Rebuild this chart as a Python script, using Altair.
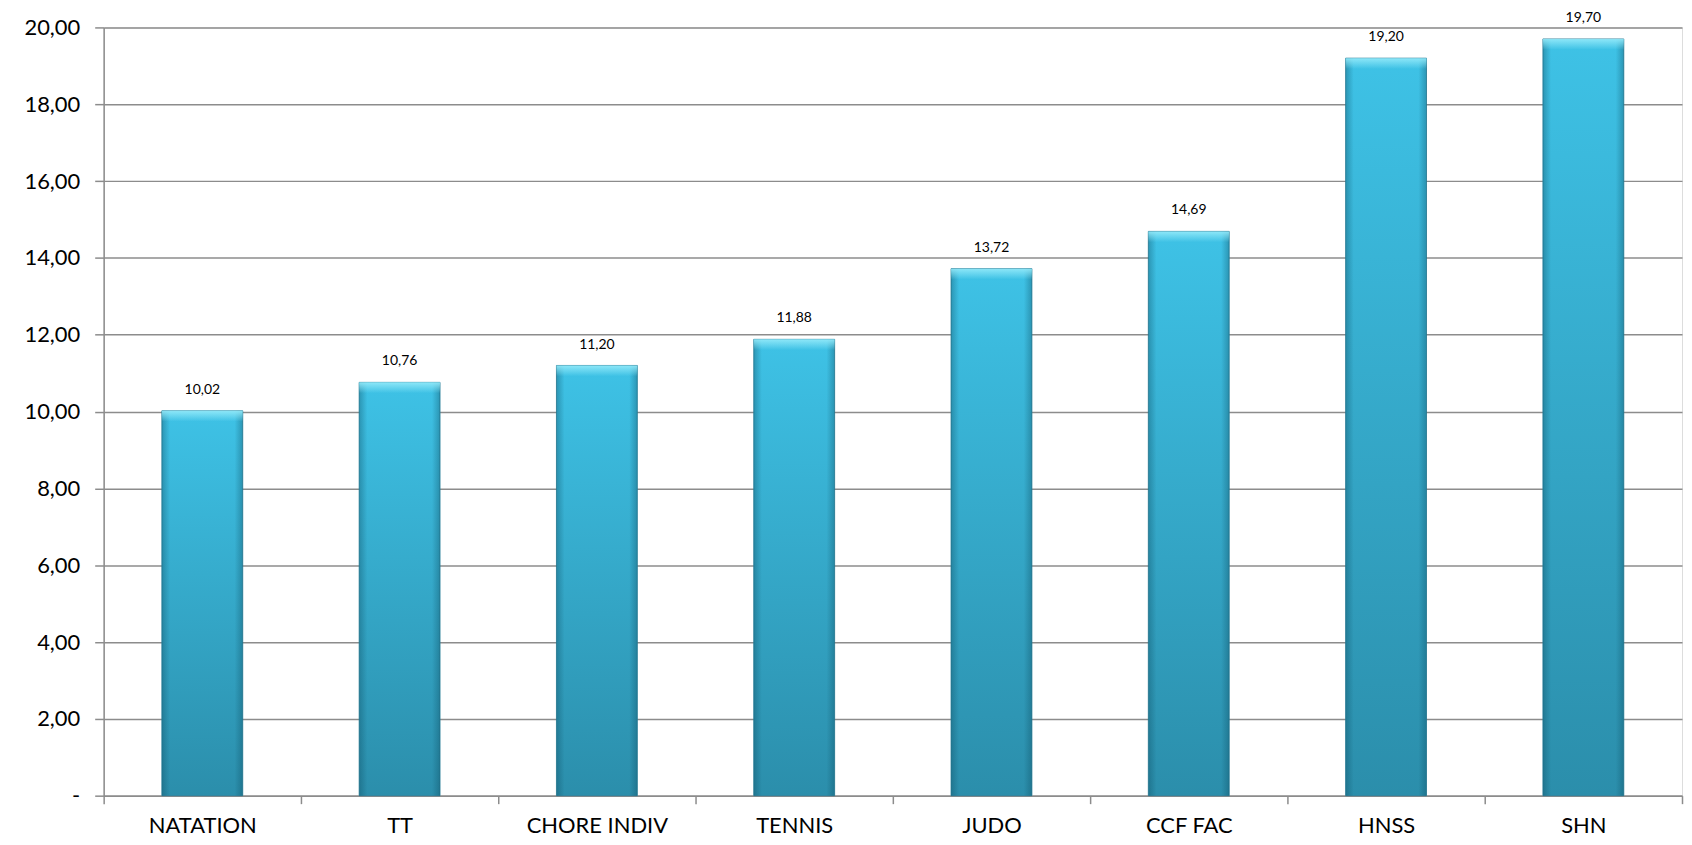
import altair as alt
import pandas as pd

categories = ["NATATION", "TT", "CHORE INDIV", "TENNIS", "JUDO", "CCF FAC", "HNSS", "SHN"]
values = [10.02, 10.76, 11.20, 11.88, 13.72, 14.69, 19.20, 19.70]
y_ticks = [0, 2, 4, 6, 8, 10, 12, 14, 16, 18, 20]

df = pd.DataFrame({"cat": categories, "val": values})
df["lab"] = [f"{v:.2f}".replace(".", ",") for v in values]

FONT = "Lato"
BAR_BAND = 0.41

x_scale = alt.Scale(paddingInner=0, paddingOuter=0)

x_enc = alt.X(
    "cat:N",
    sort=categories,
    scale=x_scale,
    axis=alt.Axis(
        title=None,
        labelAngle=0,
        labelFont=FONT,
        labelFontSize=22,
        labelColor="#000000",
        labelPadding=12,
        tickBand="extent",
        tickSize=8,
        tickColor="#8c8c8c",
        tickWidth=1.5,
        domainColor="#8c8c8c",
        domainWidth=1.5,
        grid=False,
    ),
)

y_enc = alt.Y(
    "val:Q",
    scale=alt.Scale(domain=[0, 20], nice=False),
    axis=alt.Axis(
        title=None,
        values=y_ticks,
        labelExpr="datum.value == 0 ? '-\u00a0\u00a0\u00a0' : replace(format(datum.value, '.2f'), '.', ',')",
        labelFont=FONT,
        labelFontSize=22,
        labelColor="#000000",
        labelPadding=15,
        tickSize=9,
        tickColor="#8c8c8c",
        tickWidth=1.5,
        domainColor="#8c8c8c",
        domainWidth=1.5,
        grid=True,
        gridColor="#8c8c8c",
        gridWidth=1.5,
    ),
)

x_plain = alt.X("cat:N", sort=categories, scale=x_scale)

bars = alt.Chart(df).mark_bar(
    width={"band": BAR_BAND},
    color=alt.Gradient(
        gradient="linear",
        x1=0, y1=0, x2=0, y2=1,
        stops=[
            alt.GradientStop(offset=0, color="#3ec2e6"),
            alt.GradientStop(offset=1, color="#2b8eab"),
        ],
    ),
    stroke="#2a7f99",
    strokeWidth=0.8,
).encode(x=x_enc, y=y_enc)

shade = alt.Chart(df).mark_bar(
    width={"band": BAR_BAND},
    color=alt.Gradient(
        gradient="linear",
        x1=0, y1=0, x2=1, y2=0,
        stops=[
            alt.GradientStop(offset=0, color="rgba(10,70,90,0.35)"),
            alt.GradientStop(offset=0.1, color="rgba(10,70,90,0)"),
            alt.GradientStop(offset=0.9, color="rgba(10,70,90,0)"),
            alt.GradientStop(offset=1, color="rgba(10,70,90,0.35)"),
        ],
    ),
).encode(x=x_plain, y="val:Q")

top = alt.Chart(df).transform_calculate(
    v2="datum.val - 0.28"
).mark_bar(
    width={"band": BAR_BAND},
    color=alt.Gradient(
        gradient="linear",
        x1=0, y1=0, x2=0, y2=1,
        stops=[
            alt.GradientStop(offset=0, color="rgba(150,235,250,0.9)"),
            alt.GradientStop(offset=1, color="rgba(150,235,250,0)"),
        ],
    ),
).encode(x=x_plain, y="val:Q", y2="v2:Q")

labels = alt.Chart(df).mark_text(
    font=FONT, fontSize=14, color="#000000", baseline="bottom", dy=-14
).encode(x=x_plain, y="val:Q", text="lab:N")

chart = alt.layer(bars, shade, top, labels).properties(
    width=1584,
    height=771,
    padding={"left": 96, "top": 18, "right": 2, "bottom": 48},
    autosize=alt.AutoSizeParams(type="none"),
).configure_view(stroke=None).configure(background="#ffffff")

chart.save("out.html", embed_options={"renderer": "svg", "actions": False})
